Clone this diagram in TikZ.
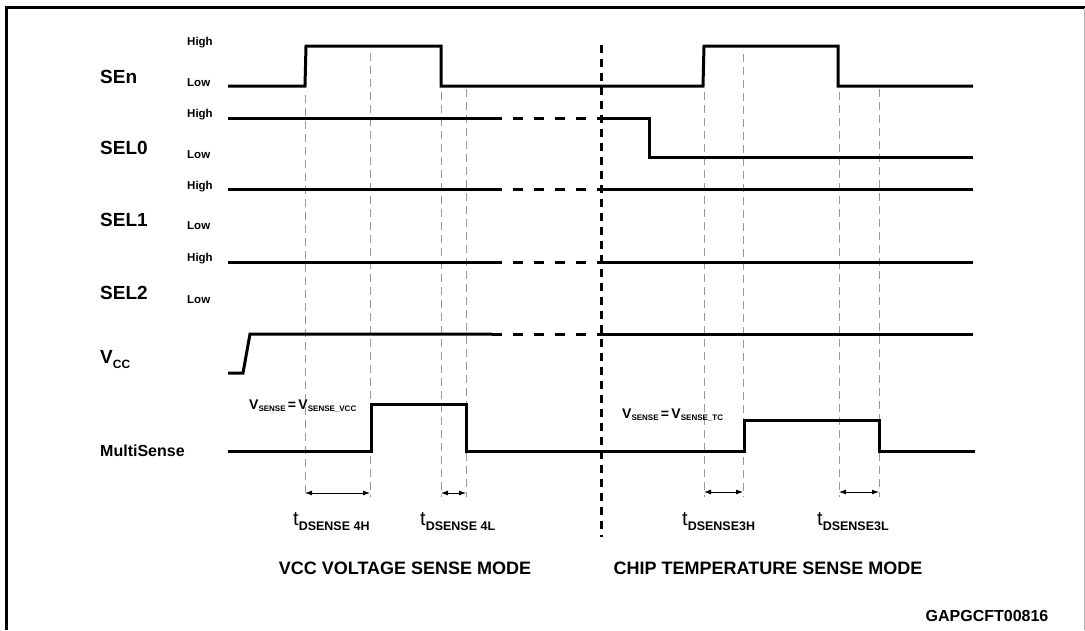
\documentclass[tikz,border=0pt]{standalone}
\usepackage{fontspec}
\setmainfont{Liberation Sans}
\usetikzlibrary{arrows.meta}

\newcommand{\tdly}[1]{{\fontsize{20}{20}\selectfont t}\raisebox{-5pt}{\bfseries\fontsize{12.5}{12.5}\selectfont DSENSE#1}}
\newcommand{\vsns}[1]{V\raisebox{-2pt}{\fontsize{8}{8}\selectfont SENSE}\,=\,V\raisebox{-2pt}{\fontsize{8}{8}\selectfont SENSE\_#1}}

\begin{document}
\begin{tikzpicture}[x=1pt,y=-1pt,
  wave/.style={line width=3pt},
  guide/.style={gray!80,line width=1pt,dash pattern=on 8pt off 5pt},
  divider/.style={line width=3pt,dash pattern=on 8pt off 6pt},
  gap/.style={line width=3pt,dash pattern=on 10pt off 11pt},
  sig/.style={font=\bfseries\fontsize{19}{19}\selectfont,anchor=west,inner sep=0pt},
  lvl/.style={font=\bfseries\fontsize{11.5}{11.5}\selectfont,anchor=west,inner sep=0pt},
  vlab/.style={font=\bfseries\fontsize{14}{14}\selectfont,anchor=base west,inner sep=0pt},
  tlab/.style={anchor=base west,inner sep=0pt},
  mode/.style={font=\bfseries\fontsize{18}{18}\selectfont,inner sep=0pt},
  span/.style={{Latex[length=7pt,width=5pt]}-{Latex[length=7pt,width=5pt]},line width=0.8pt}]

\useasboundingbox (0,0) rectangle (1085,630);

% frame
\draw[line width=3pt] (6,630) -- (6,7) -- (1085,7);
\draw[gray!60,line width=1pt] (1084,8) -- (1084,630);

% signal names
\node[sig] (sen)  at (100,77)  {SEn};
\node[sig] (sel0) at (100,148) {SEL0};
\node[sig] (sel1) at (100,220) {SEL1};
\node[sig] (sel2) at (100,293) {SEL2};
\node[sig] (vcc)  at (100,360) {V\raisebox{-5pt}{\fontsize{12}{12}\selectfont CC}};
\node[sig,font=\bfseries\fontsize{16}{16}\selectfont] (msense) at (100,451) {MultiSense};

% levels
\foreach \n/\hy/\ly in {0/43/83,1/115/155,2/187/226,3/259/300}{
  \node[lvl] (hi\n) at (187,\hy) {High};
  \node[lvl] (lo\n) at (187,\ly) {Low};
}

% guides
\foreach \gx/\gy in {305/95,370/53,441/92,466/89,704/92,743/54,839/92,879/89}
  \draw[guide] (\gx,\gy) -- (\gx,497);
\draw[divider] (601,45) -- (601,537);

% waveforms
\draw[wave] (228,86) -- (305,86) -- (306,46) -- (441,46) -- (441,86) -- (703,86)
  -- (704,46) -- (838,46) -- (838,86) -- (973,86);
\draw[wave] (228,118) -- (492,118);
\draw[gap] (492,118) -- (600,118);
\draw[wave] (600,118) -- (649,118) -- (649,157) -- (973,157);
\foreach \wy in {189,262}{
  \draw[wave] (228,\wy) -- (492,\wy);
  \draw[gap] (492,\wy) -- (600,\wy);
  \draw[wave] (600,\wy) -- (973,\wy);
}
\draw[wave] (228,373) -- (243,373) -- (250,334) -- (492,334);
\draw[gap] (492,334) -- (600,334);
\draw[wave] (600,334) -- (973,334);
\draw[wave] (228,451) -- (371,451) -- (371,404) -- (466,404) -- (466,451) -- (744,451)
  -- (744,420) -- (879,420) -- (879,451) -- (975,451);

\node[vlab] (vs1) at (249,409) {\vsns{VCC}};
\node[vlab] (vs2) at (622,418) {\vsns{TC}};

% delays
\coordinate (a4h) at (305,493); \coordinate (b4h) at (370,493);
\coordinate (a4l) at (441,493); \coordinate (b4l) at (466,493);
\coordinate (a3h) at (704,492); \coordinate (b3h) at (743,492);
\coordinate (a3l) at (839,492); \coordinate (b3l) at (879,492);
\draw[span] (a4h) -- (b4h);
\draw[span] (a4l) -- (b4l);
\draw[span] (a3h) -- (b3h);
\draw[span] (a3l) -- (b3l);

\node[tlab] (t4h) at (293,525) {\tdly{ 4H}};
\node[tlab] (t4l) at (420,525) {\tdly{ 4L}};
\node[tlab] (t3h) at (682,525) {\tdly{3H}};
\node[tlab] (t3l) at (817,525) {\tdly{3L}};

\node[mode] (vmode) at (405,568) {VCC VOLTAGE SENSE MODE};
\node[mode] (cmode) at (768,568) {CHIP TEMPERATURE SENSE MODE};
\node[font=\bfseries\fontsize{16}{16}\selectfont,inner sep=0pt] (fig) at (987,616) {GAPGCFT00816};
\end{tikzpicture}
\end{document}
